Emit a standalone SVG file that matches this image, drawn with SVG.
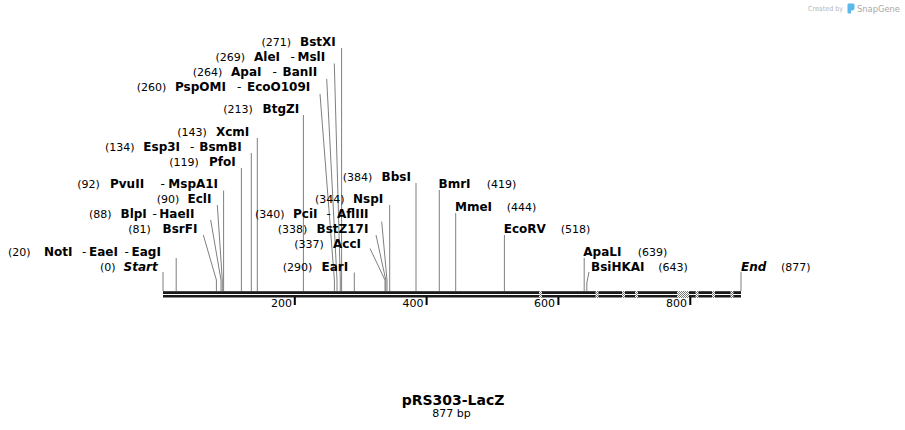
<svg xmlns="http://www.w3.org/2000/svg" width="905" height="430" viewBox="0 0 905 430">
<style>
text{font-family:"DejaVu Sans",Verdana,sans-serif;fill:#000}
.n{font-size:11px}
.b{font-size:12px;font-weight:bold}
.d{font-size:12px}
.bi{font-size:12px;font-weight:bold;font-style:italic}
.c{fill:none;stroke:#7f7f7f;stroke-width:1}
.bb{fill:#1a1a1a}
.tk{stroke:#000;stroke-width:2}
.wm{fill:#b8b8b8}
</style>
<defs>
<pattern id="chk" width="2" height="2" patternUnits="userSpaceOnUse">
<rect width="2" height="2" fill="#fff"/>
<rect width="1" height="1" fill="#777"/>
<rect x="1" y="1" width="1" height="1" fill="#777"/>
</pattern>
</defs>
<rect width="905" height="430" fill="#fff"/>
<g id="watermark">
<text x="808" y="11" class="wm" style="font-size:7px" textLength="35" lengthAdjust="spacingAndGlyphs">Created by</text>
<path d="M848,3.5 h5 a1.5,1.5 0 0 1 1.5,1.5 v3 a2.5,2.5 0 0 1 -2.5,2.5 h-1 v3 h-2.5 a1,1 0 0 1 -1,-1 v-7.5 a1.5,1.5 0 0 1 0.5,-1.5z" fill="#5cb8e8"/>
<text x="857" y="12" class="wm" style="font-size:9px;fill:#a8a8a8" textLength="43" lengthAdjust="spacingAndGlyphs">SnapGene</text>
</g>
<g id="connectors">
<path class="c" d="M341.6,48 V291"/>
<path class="c" d="M334.3,63.5 L340.3,280 V291"/>
<path class="c" d="M326.7,79 L337,280 V291"/>
<path class="c" d="M320,94 L334.4,280 V291"/>
<path class="c" d="M303.4,115 V291"/>
<path class="c" d="M257.3,138 V291"/>
<path class="c" d="M251.3,153 V291"/>
<path class="c" d="M241.4,168 V291"/>
<path class="c" d="M223.6,190.5 V291"/>
<path class="c" d="M217.3,205 L222.3,280 V291"/>
<path class="c" d="M210.7,220 L221,280 V291"/>
<path class="c" d="M203.3,235 L216.4,280 V291"/>
<path class="c" d="M176.2,258 V291"/>
<path class="c" d="M163,272 V291"/>
<path class="c" d="M416,183 V291"/>
<path class="c" d="M389.7,205 V291"/>
<path class="c" d="M381.7,221.7 L387,280 V291"/>
<path class="c" d="M376,235 L385.8,280 V291"/>
<path class="c" d="M370,248.5 L385,280 V291"/>
<path class="c" d="M354.3,272.5 V291"/>
<path class="c" d="M439.3,190 V291"/>
<path class="c" d="M455.7,213 V291"/>
<path class="c" d="M504.4,235 V291"/>
<path class="c" d="M584.2,258 V291"/>
<path class="c" d="M589,272 L586.8,283 V291"/>
<path class="c" d="M741,272 V291"/>
</g>
<g id="backbone">
<rect class="bb" x="163" y="291.2" width="578" height="2.8"/>
<rect class="bb" x="163" y="295" width="578" height="2.5"/>
<g fill="url(#chk)">
<rect x="539" y="291" width="3" height="7"/>
<rect x="595.5" y="291" width="3" height="7"/>
<rect x="622" y="291" width="3" height="7"/>
<rect x="635" y="291" width="3" height="7"/>
<rect x="677" y="291" width="12" height="7"/>
<rect x="695.5" y="291" width="3" height="7"/>
<rect x="712" y="291" width="3" height="7"/>
<rect x="730.5" y="291" width="3" height="7"/>
</g>
</g>
<g id="ticks">
<line class="tk" x1="294.8" y1="297" x2="294.8" y2="305"/>
<line class="tk" x1="426.6" y1="297" x2="426.6" y2="305"/>
<line class="tk" x1="558.4" y1="297" x2="558.4" y2="305"/>
<line class="tk" x1="690.3" y1="297" x2="690.3" y2="305"/>
<text class="n" x="292" y="307" text-anchor="end">200</text>
<text class="n" x="423.5" y="307" text-anchor="end">400</text>
<text class="n" x="555" y="307" text-anchor="end">600</text>
<text class="n" x="687" y="307" text-anchor="end">800</text>
</g>
<g id="BstXI"><text y="46"><tspan class="n" x="261.5">(271)</tspan><tspan class="b" x="300">BstXI</tspan></text></g>
<g id="AleI"><text y="61"><tspan class="n" x="215.5">(269)</tspan><tspan class="b" x="254">AleI</tspan><tspan class="d" x="290.5">-</tspan><tspan class="b" x="297.5">MslI</tspan></text></g>
<g id="ApaI"><text y="76"><tspan class="n" x="192.7">(264)</tspan><tspan class="b" x="231">ApaI</tspan><tspan class="d" x="272.5">-</tspan><tspan class="b" x="282.5">BanII</tspan></text></g>
<g id="PspOMI"><text y="91"><tspan class="n" x="136.7">(260)</tspan><tspan class="b" x="175">PspOMI</tspan><tspan class="d" x="237">-</tspan><tspan class="b" x="247">EcoO109I</tspan></text></g>
<g id="BtgZI"><text y="113"><tspan class="n" x="223.3">(213)</tspan><tspan class="b" x="262.5">BtgZI</tspan></text></g>
<g id="XcmI"><text y="136"><tspan class="n" x="177.3">(143)</tspan><tspan class="b" x="216">XcmI</tspan></text></g>
<g id="Esp3I"><text y="151"><tspan class="n" x="105">(134)</tspan><tspan class="b" x="143.3">Esp3I</tspan><tspan class="d" x="190">-</tspan><tspan class="b" x="199.3">BsmBI</tspan></text></g>
<g id="PfoI"><text y="166"><tspan class="n" x="169.3">(119)</tspan><tspan class="b" x="209">PfoI</tspan></text></g>
<g id="PvuII"><text y="188"><tspan class="n" x="77.3">(92)</tspan><tspan class="b" x="110">PvuII</tspan><tspan class="d" x="160.5">-</tspan><tspan class="b" x="168.3">MspA1I</tspan></text></g>
<g id="EclI"><text y="203"><tspan class="n" x="156.7">(90)</tspan><tspan class="b" x="187.5">EclI</tspan></text></g>
<g id="BlpI"><text y="218"><tspan class="n" x="89">(88)</tspan><tspan class="b" x="120.5">BlpI</tspan><tspan class="d" x="152.5">-</tspan><tspan class="b" x="159.3">HaeII</tspan></text></g>
<g id="BsrFI"><text y="233"><tspan class="n" x="128.3">(81)</tspan><tspan class="b" x="162.5">BsrFI</tspan></text></g>
<g id="NotI"><text y="256"><tspan class="n" x="8">(20)</tspan><tspan class="b" x="44">NotI</tspan><tspan class="d" x="82">-</tspan><tspan class="b" x="89">EaeI</tspan><tspan class="d" x="124.5">-</tspan><tspan class="b" x="131.5">EagI</tspan></text></g>
<g id="Start"><text y="271"><tspan class="n" x="100">(0)</tspan><tspan class="bi" x="123.5">Start</tspan></text></g>
<g id="BbsI"><text y="181"><tspan class="n" x="342.7">(384)</tspan><tspan class="b" x="381.5">BbsI</tspan></text></g>
<g id="NspI"><text y="203"><tspan class="n" x="315">(344)</tspan><tspan class="b" x="353">NspI</tspan></text></g>
<g id="PciI"><text y="218"><tspan class="n" x="255">(340)</tspan><tspan class="b" x="293">PciI</tspan><tspan class="d" x="326.5">-</tspan><tspan class="b" x="337">AflIII</tspan></text></g>
<g id="BstZ17I"><text y="233"><tspan class="n" x="277.7">(338)</tspan><tspan class="b" x="316.5">BstZ17I</tspan></text></g>
<g id="AccI"><text y="248"><tspan class="n" x="294.3">(337)</tspan><tspan class="b" x="333">AccI</tspan></text></g>
<g id="EarI"><text y="271"><tspan class="n" x="282.7">(290)</tspan><tspan class="b" x="321.5">EarI</tspan></text></g>
<g id="BmrI"><text y="188"><tspan class="b" x="438.5">BmrI</tspan><tspan class="n" x="486.7">(419)</tspan></text></g>
<g id="MmeI"><text y="211"><tspan class="b" x="455">MmeI</tspan><tspan class="n" x="506.7">(444)</tspan></text></g>
<g id="EcoRV"><text y="233"><tspan class="b" x="503.7">EcoRV</tspan><tspan class="n" x="560.7">(518)</tspan></text></g>
<g id="ApaLI"><text y="256"><tspan class="b" x="583.3">ApaLI</tspan><tspan class="n" x="637.7">(639)</tspan></text></g>
<g id="BsiHKAI"><text y="270.5"><tspan class="b" x="591">BsiHKAI</tspan><tspan class="n" x="658.3">(643)</tspan></text></g>
<g id="End"><text y="270.5"><tspan class="bi" x="741">End</tspan><tspan class="n" x="781">(877)</tspan></text></g>
<g id="title">
<text x="453" y="405" text-anchor="middle" style="font-size:14px;font-weight:bold">pRS303-LacZ</text>
<text x="451.5" y="417" text-anchor="middle" class="n">877 bp</text>
</g>
</svg>
